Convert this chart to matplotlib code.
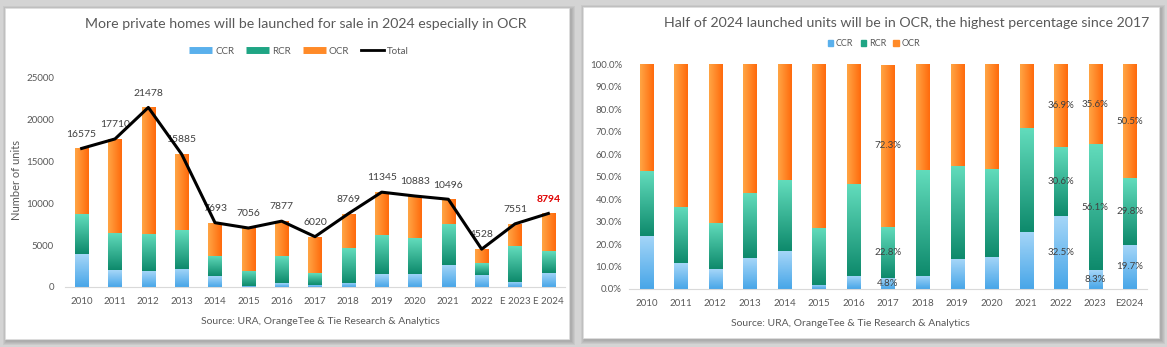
import numpy as np
import matplotlib
matplotlib.use("Agg")
import matplotlib.pyplot as plt
from matplotlib.patches import Rectangle
from matplotlib.lines import Line2D
from matplotlib.colors import LinearSegmentedColormap

plt.rcParams['font.family'] = ['Lato', 'DejaVu Sans']

# ---------------- data ----------------
years_left = ['2010', '2011', '2012', '2013', '2014', '2015', '2016', '2017',
              '2018', '2019', '2020', '2021', '2022', 'E 2023', 'E 2024']
ccr_units = [3928, 2019, 1890, 2176, 1300, 127, 457, 289, 509, 1500, 1570, 2676, 1472, 627, 1732]
rcr_units = [4774, 4445, 4446, 4638, 2431, 1799, 3222, 1373, 4139, 4720, 4266, 4860, 1386, 4236, 2621]
ocr_units = [7873, 11246, 15142, 9071, 3962, 5130, 4198, 4358, 4121, 5125, 5047, 2960, 1670, 2688, 4441]
total_units = [16575, 17710, 21478, 15885, 7693, 7056, 7877, 6020, 8769, 11345, 10883, 10496, 4528, 7551, 8794]

years_right = ['2010', '2011', '2012', '2013', '2014', '2015', '2016', '2017',
               '2018', '2019', '2020', '2021', '2022', '2023', 'E2024']
ccr_pct = [23.7, 11.4, 8.8, 13.7, 16.9, 1.8, 5.8, 4.8, 5.8, 13.2, 14.4, 25.5, 32.5, 8.3, 19.7]
rcr_pct = [28.8, 25.1, 20.7, 29.2, 31.6, 25.5, 40.9, 22.8, 47.2, 41.6, 39.2, 46.3, 30.6, 56.1, 29.8]
ocr_pct = [47.5, 63.5, 70.5, 57.1, 51.5, 72.7, 53.3, 72.3, 47.0, 45.2, 46.4, 28.2, 36.9, 35.6, 50.5]
labelled_years = ['2017', '2022', '2023', 'E2024']

title_left = 'More private homes will be launched for sale in 2024 especially in OCR'
title_right = 'Half of 2024 launched units will be in OCR, the highest percentage since 2017'
source_text = 'Source: URA, OrangeTee & Tie Research & Analytics'

# ---------------- style ----------------
W, H = 1167, 347
fig = plt.figure(figsize=(W / 100, H / 100), dpi=100)
fig.patch.set_facecolor('#d4d4d4')
TXT = '#595959'

def fx(px):
    return px / W

def fy(py):
    return 1 - py / H

def panel(x0, y0, x1, y1):
    # soft shadow
    for i, a in enumerate([0.10, 0.10, 0.10, 0.12]):
        d = 4 - i
        fig.patches.append(Rectangle((fx(x0 - d + 2), fy(y1 + d + 2)), fx(x1 - x0 + 2 * d), (y1 - y0 + 2 * d) / H,
                                     transform=fig.transFigure, facecolor='#707070', alpha=a,
                                     edgecolor='none', zorder=-3))
    fig.patches.append(Rectangle((fx(x0), fy(y1)), fx(x1 - x0), (y1 - y0) / H,
                                 transform=fig.transFigure, facecolor='white',
                                 edgecolor='#e0e0e0', lw=0.5, zorder=-2))

panel(5, 8, 569, 339)
panel(583, 7, 1159, 338)

cm_ccr = LinearSegmentedColormap.from_list('ccr', ['#48a6e8', '#a5d6f8'])
cm_rcr = LinearSegmentedColormap.from_list('rcr', ['#0e8a6c', '#62dcbc'])
cm_ocr = LinearSegmentedColormap.from_list('ocr', ['#ffa544', '#ff6a0c'])

def gradient_bars(ax, bars, cmap, vertical=True):
    for b in bars:
        x, y = b.get_x(), b.get_y()
        w, h = b.get_width(), b.get_height()
        if h <= 0:
            continue
        if vertical:
            img = np.linspace(0, 1, 64).reshape(-1, 1)
        else:
            img = np.linspace(0, 1, 64).reshape(1, -1)
        im = ax.imshow(img, cmap=cmap, extent=(x, x + w, y, y + h), origin='lower',
                       aspect='auto', zorder=2, interpolation='bicubic')
        im.set_clip_path(b)
        b.set_alpha(0)

def style_axes(ax, ypad=10, ysize=7.3):
    ax.set_facecolor('none')
    for s in ['top', 'right', 'left']:
        ax.spines[s].set_visible(False)
    ax.spines['bottom'].set_color('#d9d9d9')
    ax.tick_params(axis='both', length=0, colors=TXT)
    ax.tick_params(axis='x', pad=7, labelsize=7)
    ax.tick_params(axis='y', pad=ypad, labelsize=ysize)

# ---------------- left chart ----------------
axL = fig.add_axes([fx(65), fy(287), fx(565 - 65), (287 - 78) / H])
xl = np.arange(len(years_left))
bw = 0.4
c1 = np.array(ccr_units)
c2 = np.array(rcr_units)
c3 = np.array(ocr_units)
b1 = axL.bar(xl, c1, bw, color='#5ab0ec', zorder=2)
b2 = axL.bar(xl, c2, bw, bottom=c1, color='#1fa584', zorder=2)
b3 = axL.bar(xl, c3, bw, bottom=c1 + c2, color='#ff8a28', zorder=2)
gradient_bars(axL, b1, cm_ccr)
gradient_bars(axL, b2, cm_rcr)
gradient_bars(axL, b3, cm_ocr, vertical=False)
axL.plot(xl, total_units, color='black', lw=2.2, zorder=4)
for i, v in enumerate(total_units):
    last = i == len(total_units) - 1
    axL.annotate(f'{v}', (xl[i], v), xytext=(0, 7), textcoords='offset points',
                 ha='center', va='bottom', fontsize=7.5,
                 color='#e00000' if last else '#404040',
                 fontweight='bold' if last else 'normal', zorder=3)
axL.set_xlim(-0.5, len(years_left) - 0.5)
axL.set_ylim(0, 25000)
axL.set_yticks([0, 5000, 10000, 15000, 20000, 25000])
axL.set_xticks(xl)
axL.set_xticklabels(years_left)
style_axes(axL, ypad=8, ysize=7)
fig.text(fx(17), fy(180), 'Number of units', rotation=90, ha='center', va='center',
         fontsize=8, color=TXT)

fig.text(fx(306), fy(24), title_left, ha='center', va='center', fontsize=10.2, color=TXT)
handlesL = [Line2D([], [], color='#5ab0ec', lw=5, solid_capstyle='butt'),
            Line2D([], [], color='#1fa584', lw=5, solid_capstyle='butt'),
            Line2D([], [], color='#ff8a28', lw=5, solid_capstyle='butt'),
            Line2D([], [], color='black', lw=2)]
fig.legend(handlesL, ['CCR', 'RCR', 'OCR', 'Total'], loc='center', bbox_to_anchor=(fx(299), fy(51)),
           ncol=4, frameon=False, fontsize=7, handlelength=2.4, handletextpad=0.3,
           columnspacing=1.2, labelcolor=TXT)
fig.text(fx(320), fy(322), source_text, ha='center', va='center', fontsize=7.5, color=TXT)

# ---------------- right chart ----------------
axR = fig.add_axes([fx(629), fy(289), fx(1147 - 629), (289 - 64.4) / H])
xr = np.arange(len(years_right))
bwr = 0.38
p1 = np.array(ccr_pct)
p2 = np.array(rcr_pct)
p3 = np.array(ocr_pct)
r1 = axR.bar(xr, p1, bwr, color='#5ab0ec', zorder=2)
r2 = axR.bar(xr, p2, bwr, bottom=p1, color='#1fa584', zorder=2)
r3 = axR.bar(xr, p3, bwr, bottom=p1 + p2, color='#ff8a28', zorder=2)
gradient_bars(axR, r1, cm_ccr)
gradient_bars(axR, r2, cm_rcr)
gradient_bars(axR, r3, cm_ocr, vertical=False)
for i, y in enumerate(years_right):
    if y in labelled_years:
        for bottom, val in [(0, p1[i]), (p1[i], p2[i]), (p1[i] + p2[i], p3[i])]:
            axR.text(xr[i], bottom + val / 2, f'{val:.1f}%', ha='center', va='center',
                     fontsize=7, color='#404040', zorder=5)
axR.set_xlim(-0.5, len(years_right) - 0.5)
axR.set_ylim(0, 100)
axR.set_yticks(np.arange(0, 101, 10))
axR.set_yticklabels([f'{v:.1f}%' for v in np.arange(0, 101, 10)])
axR.set_xticks(xr)
axR.set_xticklabels(years_right)
style_axes(axR, ypad=5, ysize=7)

fig.text(fx(907), fy(23), title_right, ha='center', va='center', fontsize=10.2, color=TXT)
handlesR = [Rectangle((0, 0), 1, 1, color='#5ab0ec'),
            Rectangle((0, 0), 1, 1, color='#1fa584'),
            Rectangle((0, 0), 1, 1, color='#ff8a28')]
fig.legend(handlesR, ['CCR', 'RCR', 'OCR'], loc='center', bbox_to_anchor=(fx(874), fy(44)),
           ncol=3, frameon=False, fontsize=6.5, handlelength=0.6, handleheight=0.6,
           handletextpad=0.3, columnspacing=0.8, labelcolor=TXT)
fig.text(fx(850), fy(323), source_text, ha='center', va='center', fontsize=7.5, color=TXT)

fig.savefig('out.png', dpi=100, facecolor=fig.get_facecolor())
